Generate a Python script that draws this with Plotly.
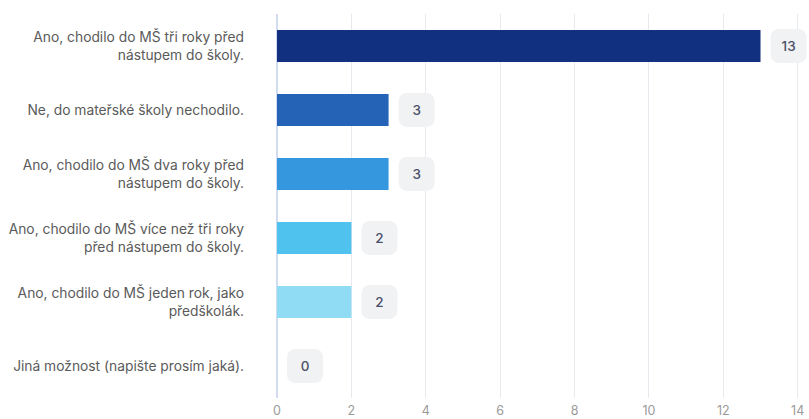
import plotly.graph_objects as go

categories = [
    "Ano, chodilo do MŠ tři roky před<br>nástupem do školy.",
    "Ne, do mateřské školy nechodilo.",
    "Ano, chodilo do MŠ dva roky před<br>nástupem do školy.",
    "Ano, chodilo do MŠ více než tři roky<br>před nástupem do školy.",
    "Ano, chodilo do MŠ jeden rok, jako<br>předškolák.",
    "Jiná možnost (napište prosím jaká).",
]
values = [13, 3, 3, 2, 2, 0]
bar_colors = ["#11307f", "#2463b6", "#3598de", "#50c2ee", "#90dcf4", "#d0eefa"]

x_ticks = [0, 2, 4, 6, 8, 10, 12, 14]

# value boxes sit just past the end of each bar
gap = 0.27
box_len = 0.97
box_base = [v + gap for v in values]

fig = go.Figure()
fig.add_trace(go.Bar(
    y=categories, x=values, orientation="h",
    marker=dict(color=bar_colors, cornerradius=3, line=dict(width=0)),
    width=0.5, hoverinfo="skip",
))
fig.add_trace(go.Bar(
    y=categories, x=[box_len] * len(values), base=box_base, orientation="h",
    marker=dict(color="#f1f2f3", cornerradius=8, line=dict(width=0)),
    width=0.53,
    text=[str(v) for v in values], textposition="inside",
    insidetextanchor="middle",
    textfont=dict(family="Inter", size=13.5, color="#4b5068", weight=500),
    hoverinfo="skip",
))

fig.update_layout(
    width=809, height=419,
    margin=dict(l=277, r=2, t=14, b=21),
    paper_bgcolor="white", plot_bgcolor="white",
    barmode="overlay", showlegend=False,
    font=dict(family="Inter", size=12, color="#555"),
    xaxis=dict(
        range=[0, 14.25], tickvals=x_ticks, showgrid=True, automargin=False,
        gridcolor="#e7e9ee", gridwidth=1, zeroline=True,
        zerolinecolor="#d3dbf0", zerolinewidth=1.5, ticklabelstandoff=3,
        tickfont=dict(size=12.5, color="#9a9a9a"), ticks="", fixedrange=True,
    ),
    yaxis=dict(
        autorange="reversed", showgrid=False, ticks="", ticklabelstandoff=32,
        automargin=False,
        tickfont=dict(family="Inter", size=13.8, color="#5a5a5a"),
    ),
)

fig.write_html("out.html")
